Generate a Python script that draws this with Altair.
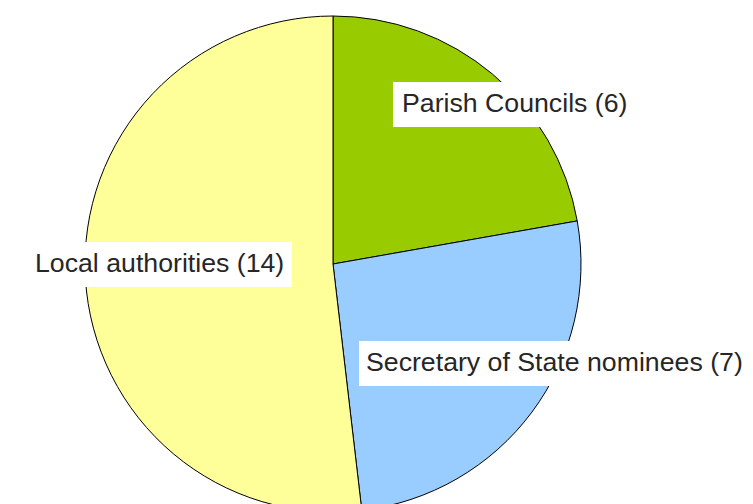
import altair as alt
import pandas as pd

categories = ["Parish Councils", "Secretary of State nominees", "Local authorities"]
counts = [6, 7, 14]
colors = ["#99CC00", "#99CCFF", "#FFFF99"]

df = pd.DataFrame({"category": categories, "count": counts, "order": [0, 1, 2]})
df["label"] = df["category"] + " (" + df["count"].astype(str) + ")"

# label layout (pixels, chart coordinates)
lab = pd.DataFrame({
    "label": df["label"],
    "tx": [394, 358, 27],
    "ty": [104, 363, 264],
    "bx1": [385, 351, 18],
    "bx2": [626, 737, 284],
    "by1": [74, 333, 234],
    "by2": [119, 378, 279],
})

pie = alt.Chart(df).mark_arc(radius=248, stroke="black", strokeWidth=1).encode(
    theta=alt.Theta("count:Q", stack=True),
    color=alt.Color("category:N", scale=alt.Scale(domain=categories, range=colors), legend=None),
    order=alt.Order("order:Q"),
    x=alt.value(325),
    y=alt.value(256),
)

boxes = alt.Chart(lab).mark_rect(color="white").encode(
    x=alt.X("bx1:Q", scale=None), x2="bx2:Q",
    y=alt.Y("by1:Q", scale=None), y2="by2:Q",
)

texts = alt.Chart(lab).mark_text(
    align="left", baseline="alphabetic", fontSize=26.7, font="Liberation Sans", color="#262626"
).encode(
    x=alt.X("tx:Q", scale=None),
    y=alt.Y("ty:Q", scale=None),
    text="label:N",
)

chart = alt.layer(pie, boxes, texts).properties(
    width=737, height=496, padding=0, autosize="none"
).configure_view(stroke=None)

chart.save("out.html", embed_options={"renderer": "svg", "actions": False})
